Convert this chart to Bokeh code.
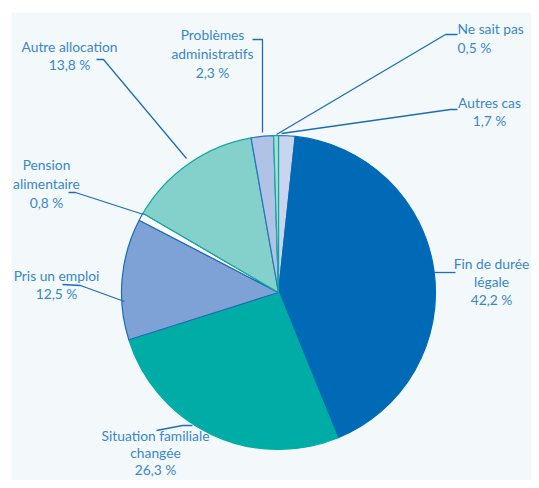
import math
from bokeh.plotting import figure
from bokeh.models import Range1d
from bokeh.core.properties import value
from bokeh.embed import file_html
from bokeh.resources import INLINE

# ---- data (clockwise from 12 o'clock) ----
categories = ["Autres cas", "Fin de durée légale", "Situation familiale changée",
              "Pris un emploi", "Pension alimentaire", "Autre allocation",
              "Problèmes administratifs", "Ne sait pas"]
shares = [1.7, 42.2, 26.3, 12.5, 0.8, 13.8, 2.3, 0.5]
label_lines = [["Autres cas"], ["Fin de durée", "légale"], ["Situation familiale", "changée"],
               ["Pris un emploi"], ["Pension", "alimentaire"], ["Autre allocation"],
               ["Problèmes", "administratifs"], ["Ne sait pas"]]

fills = ["#c9d5ee", "#006ab6", "#00aca6", "#7fa2d6", "#ffffff", "#84d0cb", "#b0c3e6", "#a6e0d6"]
lines = ["#2a72bd", "#006ab6", "#00aca6", "#1a6cb8", "#1a6cb8", "#12a8a0", "#2a72bd", "#12a8a0"]

W, H = 531, 480
def Y(yref):
    return H - yref

p = figure(width=W, height=H, output_backend="svg", toolbar_location=None,
           x_range=Range1d(0, W), y_range=Range1d(0, H),
           min_border=0, outline_line_color=None, background_fill_color="white",
           border_fill_color="white")
p.xaxis.visible = False
p.yaxis.visible = False
p.grid.visible = False

# light panel
p.quad(left=[11], right=[W + 2], top=[Y(12)], bottom=[-2], fill_color="#f3f9fa", line_color=None)

# ---- pie ----
cx, cy, r = 278, Y(292), 157
total = sum(shares)
cum = 0.0
starts, ends = [], []
for s in shares:
    c0 = cum / total
    cum += s
    c1 = cum / total
    starts.append(math.pi / 2 - 2 * math.pi * c1)
    ends.append(math.pi / 2 - 2 * math.pi * c0)

p.wedge(x=[cx] * len(shares), y=[cy] * len(shares), radius=r,
        start_angle=starts, end_angle=ends,
        fill_color=fills, line_color=lines, line_width=1.2)

# ---- leader lines (reference pixel coords) ----
leaders = [
    [(457, 109), (450, 109), (281, 133)],            # Autres cas
    [(433, 272), (455, 272)],                        # Fin de durée
    [(156, 430), (182, 425), (192, 425)],            # Situation familiale
    [(62, 284), (80, 285), (124, 301)],              # Pris un emploi
    [(68, 192), (75, 192), (143, 214)],              # Pension
    [(96, 59), (103, 59), (186, 158)],               # Autre allocation
    [(252, 39), (262, 39), (262, 132)],              # Problèmes
    [(457, 34), (445, 34), (276, 134)],              # Ne sait pas
]
for pts in leaders:
    p.line([q[0] for q in pts], [Y(q[1]) for q in pts], line_color="#1e6db6", line_width=1.3)

# ---- labels ----
label_pos = [  # x, y of first line center, align, line step
    (489, 102, "center", 17.5),
    (491, 263, "center", 18),
    (155, 435, "center", 17),
    (56, 275, "center", 18),
    (46, 164, "center", 19),
    (69, 46, "center", 17.5),
    (212, 34, "center", 19),
    (457, 28, "left", 19),
]
for name_lines, s, (lx, ly, al, step) in zip(label_lines, shares, label_pos):
    texts = name_lines + [f"{s:.1f}".replace(".", ",") + " %"]
    for i, t in enumerate(texts):
        p.text(x=[lx], y=[Y(ly + i * step)], text=[t], text_align=al,
               text_baseline="middle", text_font=value("Lato"),
               text_font_size="13.8px", text_color="#3a86c8")

open("out.html", "w").write(file_html(p, INLINE))
